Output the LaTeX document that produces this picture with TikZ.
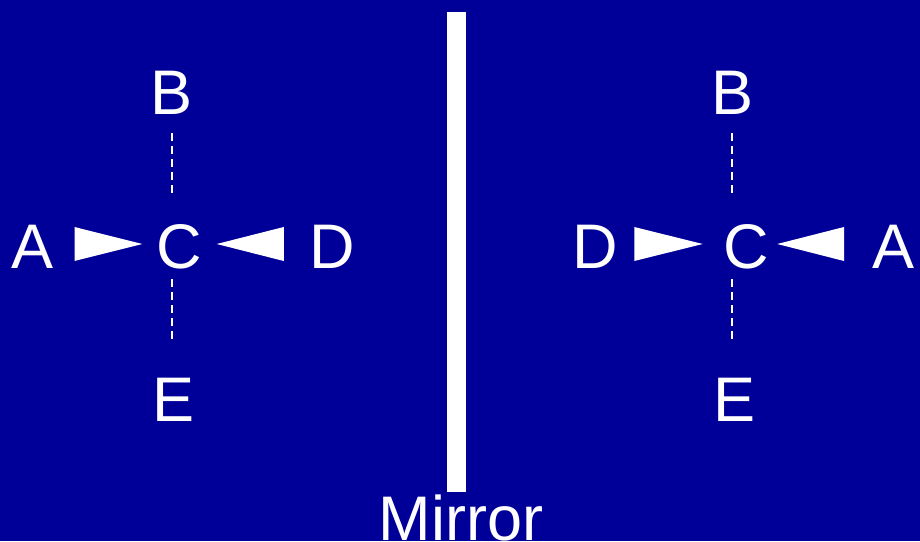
\documentclass[tikz,border=0pt]{standalone}
\usepackage{fontspec}
\setmainfont{Liberation Sans}
\usepackage{tikz}
\usetikzlibrary{positioning}

\definecolor{mirrorbg}{HTML}{000099}

\begin{document}
\begin{tikzpicture}[
    x=1pt, y=1pt,
    letter/.style={inner sep=0pt, outer sep=0pt, text=white, font=\fontsize{63}{70}\selectfont},
    wedge/.style={fill=white},
    guide/.style={draw=white, line width=2pt, dash pattern=on 7.5pt off 5.5pt}
  ]
    \useasboundingbox (0,0) rectangle (920,541);
    \fill[mirrorbg] (0,0) rectangle (920,541);

    % left molecule
    \node[letter] (Cl) at (179,294.5) {C};
    \node[letter] (Al) at (33,294.5) {A};
    \node[letter] (Dl) at (332.5,294.5) {D};
    \node[letter] (Bl) at (172,448.5) {B};
    \node[letter] (El) at (174,141) {E};

    \fill[wedge] ([shift={(20.5,19.5)}]Al.east) -- ([shift={(-14,2.5)}]Cl.west) -- ([shift={(20.5,-14.5)}]Al.east) -- cycle;
    \fill[wedge] ([shift={(-26,19.5)}]Dl.west) -- ([shift={(15,2.5)}]Cl.east) -- ([shift={(-26,-14.5)}]Dl.west) -- cycle;
    \draw[guide] ([yshift=-19pt]Bl.south) -- ([yshift=-19pt-62pt]Bl.south);
    \draw[guide] ([xshift=-2pt,yshift=37pt+62pt]El.north) -- ([xshift=-2pt,yshift=37pt]El.north);

    % mirror
    \fill[white] (447,49) rectangle (465.5,529);
    \node[letter, anchor=base] (mirror) at (461,1) {Mirror};

    % right molecule (mirror image)
    \node[letter] (Cr) at (746.5,294.5) {C};
    \node[letter] (Dr) at (595.5,294.5) {D};
    \node[letter] (Ar) at (893.5,294.5) {A};
    \node[letter] (Br) at (732,448.5) {B};
    \node[letter] (Er) at (734,141) {E};

    \fill[wedge] ([shift={(16,19.5)}]Dr.east) -- ([shift={(-21,2.5)}]Cr.west) -- ([shift={(16,-14.5)}]Dr.east) -- cycle;
    \fill[wedge] ([shift={(-28.5,19.5)}]Ar.west) -- ([shift={(8,2.5)}]Cr.east) -- ([shift={(-28.5,-14.5)}]Ar.west) -- cycle;
    \draw[guide] ([yshift=-19pt]Br.south) -- ([yshift=-19pt-62pt]Br.south);
    \draw[guide] ([xshift=-2pt,yshift=37pt+62pt]Er.north) -- ([xshift=-2pt,yshift=37pt]Er.north);
\end{tikzpicture}
\end{document}
